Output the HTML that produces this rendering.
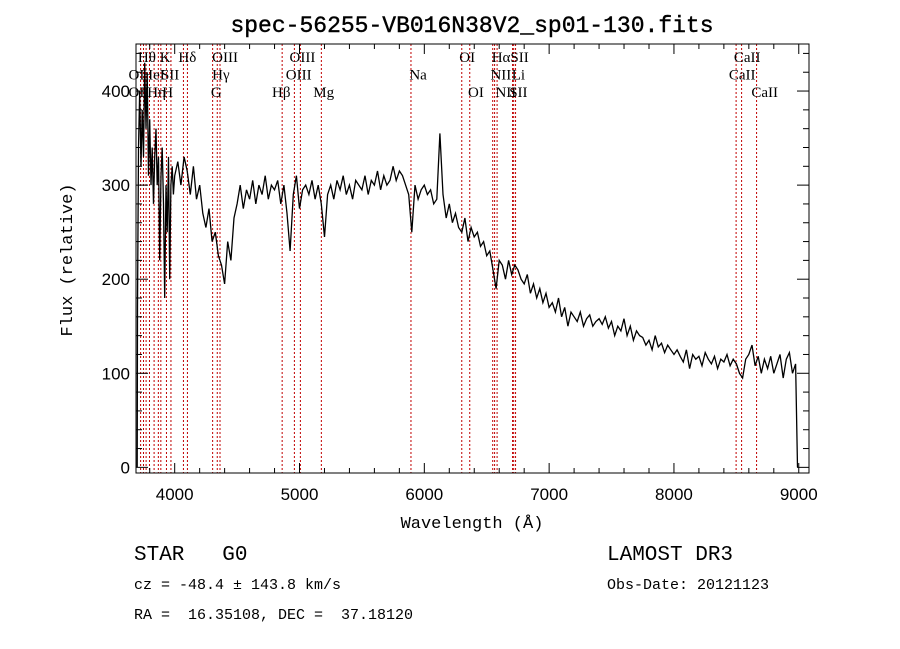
<!DOCTYPE html>
<html><head><meta charset="utf-8"><style>
body{margin:0;background:#fff;}
svg{display:block;}
text{white-space:pre;}
.t{font-family:"Liberation Mono",monospace;fill:#000;}
.s{font-family:"Liberation Serif",serif;font-size:15px;fill:#000;}
.k{font-family:"Liberation Sans",sans-serif;font-size:17px;fill:#000;}
</style></head><body>
<svg id="c" width="900" height="649" xml:space="preserve">
<text class="t" x="472" y="32" font-size="23" stroke="#000" stroke-width="0.4" text-anchor="middle">spec-56255-VB016N38V2_sp01-130.fits</text>
<g id="lines"></g>
<g id="labels"></g>
<path id="spec" fill="none" stroke="#000" stroke-width="1.3"/>
<g id="axes"></g>
<rect x="136" y="44" width="673" height="429" fill="none" stroke="#000" stroke-width="1"/>
<text class="t" x="472" y="528" font-size="17" text-anchor="middle">Wavelength (Å)</text>
<text class="t" x="72" y="260" font-size="17" text-anchor="middle" transform="rotate(-90 72 260)">Flux (relative)</text>
<text class="t" x="134" y="560" font-size="21">STAR   G0</text>
<text class="t" x="134" y="589" font-size="15">cz = -48.4 ± 143.8 km/s</text>
<text class="t" x="134" y="619" font-size="15">RA =  16.35108, DEC =  37.18120</text>
<text class="t" x="607" y="560" font-size="21">LAMOST DR3</text>
<text class="t" x="607" y="589" font-size="15">Obs-Date: 20121123</text>
</svg>
<script>
const waveHead=[3700,3702,3710,3720,3730,3740,3750,3760,3770,3780,3790,3800,3810,3820,3830,3840,3850,3860,3870,3880,3890,3900,3910,3920,3930,3940,3950,3960,3970,3980,3990];
const fluxHead=[0,170,340,400,320,380,330,430,360,420,310,370,300,340,280,330,360,300,330,220,310,340,280,180,300,250,330,200,300,320,290];
const fluxBody=[310,325,300,330,315,290,320,285,300,270,255,275,240,250,225,215,195,240,220,265,
280,300,275,295,285,305,280,300,290,310,285,300,295,305,280,300,270,230,290,310,
275,295,300,290,305,285,300,280,245,290,300,285,305,295,310,290,300,285,305,300,
295,310,290,305,300,315,295,310,300,305,320,305,315,310,300,290,250,300,285,295,
300,290,295,280,285,355,290,265,280,260,270,255,250,265,240,255,245,250,235,240,
225,230,210,190,220,215,200,220,205,215,210,200,195,205,185,195,180,190,175,185,
170,175,165,180,160,170,150,165,160,155,165,150,158,162,150,155,158,152,160,148,
155,140,150,145,158,140,150,135,145,140,138,130,135,125,140,128,132,122,130,125,
120,125,118,112,125,105,120,115,118,108,122,115,110,118,105,115,112,120,108,115,
110,100,95,115,120,130,108,118,100,115,105,118,100,110,120,95,115,122,100,110,0];
const bodyStart=4000, bodyStep=25;
const wave=waveHead.concat(fluxBody.map((f,i)=>i<fluxBody.length-1?bodyStart+i*bodyStep:8990));
const flux=fluxHead.concat(fluxBody);
const lineW=[3727,3750,3771,3798,3835,3869,3889,3934,3970,4070,4102,4304,4341,4363,4861,4959,5007,5175,5893,6300,6364,6548,6563,6583,6707,6716,6731,8498,8542,8662];
const labText=["Hθ","K","Hδ","OIII","OIII","OI","HαSII","CaII","OI","HeI","SII","Hγ","OIII","Na","NII","Li","CaII","OII","Hη","H","G","Hβ","Mg","OI","NII","SII","CaII"];
const labWave=[3705,3880,4030,4300,4920,6280,6540,8480,3630,3740,3890,4300,4890,5880,6530,6700,8440,3630,3780,3900,4290,4780,5110,6350,6570,6680,8620];
const labRow=[0,0,0,0,0,0,0,0,1,1,1,1,1,1,1,1,1,2,2,2,2,2,2,2,2,2,2];
const xTicks=[4000,5000,6000,7000,8000,9000];
const yTicks=[0,100,200,300,400];
const X0=136,X1=809,Y0=473,Y1=44,WMIN=3690,WMAX=9082,FMIN=-6,FMAX=450;
const sx=w=>X0+(w-WMIN)/(WMAX-WMIN)*(X1-X0);
const sy=f=>Y0-(f-FMIN)/(FMAX-FMIN)*(Y0-Y1);
const NS="http://www.w3.org/2000/svg";
function mk(t,a,p){const e=document.createElementNS(NS,t);for(const k in a)e.setAttribute(k,a[k]);p.appendChild(e);return e;}
const gl=document.getElementById('lines');
lineW.forEach(w=>{const e=mk('line',{x1:sx(w),x2:sx(w),y1:Y1,y2:Y0,stroke:'#c00000','stroke-width':1,'stroke-dasharray':'2,2'},gl);

});
const glb=document.getElementById('labels');
labText.forEach((t,i)=>{const e=mk('text',{x:sx(labWave[i]),y:62+labRow[i]*17.5,class:'s'},glb);e.textContent=t;

});
document.getElementById('spec').setAttribute('d',wave.map((w,i)=>(i?'L':'M')+sx(w).toFixed(1)+','+sy(flux[i]).toFixed(1)).join(''));
const ga=document.getElementById('axes');
for(let w=3800;w<=9000;w+=200){const maj=w%1000==0;const x=sx(w);
mk('line',{x1:x,x2:x,y1:Y0,y2:Y0-(maj?10:5),stroke:'#000'},ga);mk('line',{x1:x,x2:x,y1:Y1,y2:Y1+(maj?10:5),stroke:'#000'},ga);}
xTicks.forEach(w=>{const e=mk('text',{x:sx(w),y:500,class:'k','text-anchor':'middle'},ga);e.textContent=w;

});
for(let f=0;f<=440;f+=20){const maj=f%100==0;const y=sy(f);
mk('line',{x1:X0,x2:X0+(maj?12:6),y1:y,y2:y,stroke:'#000'},ga);mk('line',{x1:X1,x2:X1-(maj?12:6),y1:y,y2:y,stroke:'#000'},ga);}
yTicks.forEach(f=>{const e=mk('text',{x:130,y:sy(f)+6,class:'k','text-anchor':'end'},ga);e.textContent=f;

});
</script>
</body></html>
